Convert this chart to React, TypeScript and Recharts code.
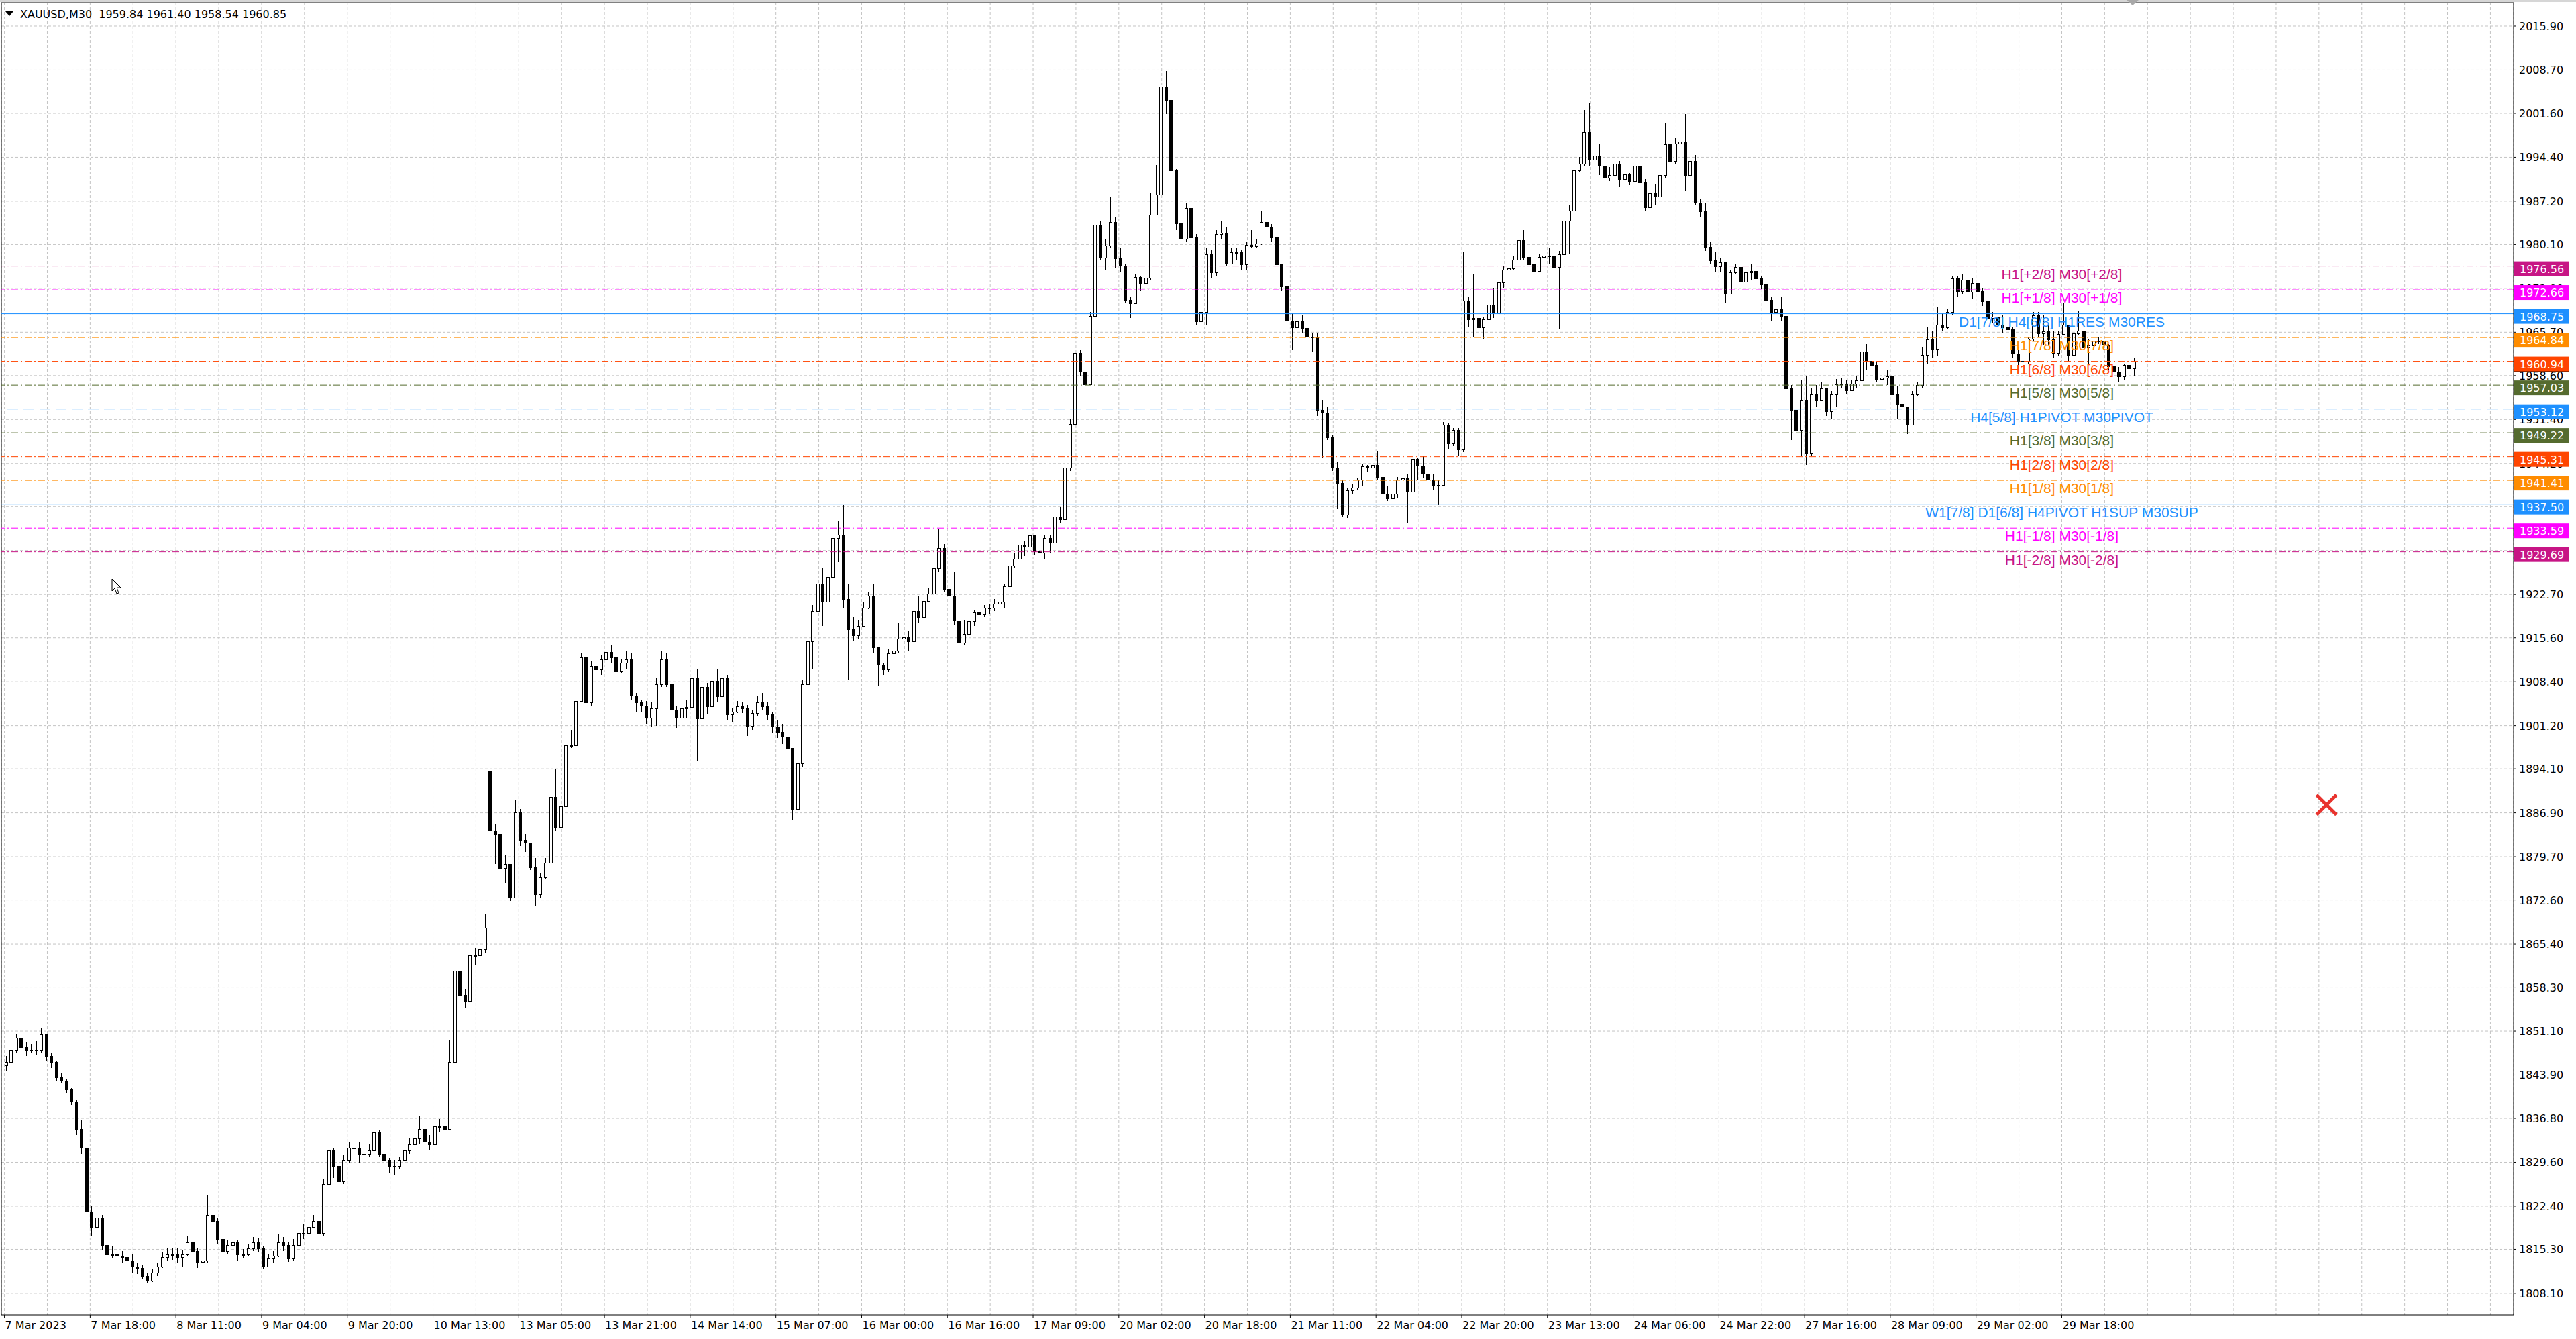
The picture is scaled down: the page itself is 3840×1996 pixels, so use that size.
import React from 'react';
import { ComposedChart, Bar, XAxis, YAxis, CartesianGrid, ReferenceLine, ReferenceDot } from 'recharts';

// XAUUSD M30, 7 - 30 Mar 2023. Candles, one per hour.
const opens = [
  1845.5, 1846, 1848, 1850, 1848.5, 1848, 1848, 1848, 1850.5, 1847,
  1846, 1843.5, 1843, 1841.5, 1839.5, 1835, 1832, 1821.5, 1819, 1820.5,
  1816, 1814.5, 1814.5, 1814.3, 1814, 1813.5, 1812.5, 1812.3, 1811, 1810.2,
  1811.5, 1812.5, 1814, 1814.5, 1814.5, 1814, 1814.5, 1816.5, 1815, 1813.3,
  1813.5, 1821, 1820, 1817, 1815, 1816, 1816.5, 1814.5, 1814.5, 1815.5,
  1816.5, 1815.5, 1812.5, 1813.8, 1814.3, 1816.5, 1816, 1813.8, 1816, 1818,
  1818, 1819, 1820, 1818, 1826, 1831.5, 1829, 1826.5, 1830, 1832,
  1832, 1831, 1831, 1831.5, 1834.5, 1831, 1830, 1829, 1829, 1830,
  1831.5, 1832.5, 1833.5, 1835, 1833, 1832.5, 1835.5, 1835.5, 1835, 1846,
  1861, 1857, 1856, 1863.5, 1863.5, 1864.5, 1893.8, 1884, 1883.5, 1877.8,
  1878.5, 1873, 1887, 1882.5, 1882, 1878, 1873.5, 1876.3, 1878.7, 1889.5,
  1884.5, 1888, 1898, 1898, 1905.2, 1912.4, 1905, 1911, 1910.5, 1912,
  1913.3, 1912.4, 1910.2, 1911.5, 1912, 1906.1, 1905, 1904.5, 1902.5, 1904,
  1908, 1912, 1908, 1903.8, 1902.5, 1904, 1904.2, 1909, 1902.4, 1907.5,
  1904.3, 1908.5, 1906, 1909, 1903, 1903.5, 1904.4, 1904, 1901.2, 1903.2,
  1905, 1904.4, 1903, 1901, 1900.2, 1899.4, 1897.5, 1887.5, 1895, 1908,
  1915, 1920, 1924.5, 1921.5, 1925.6, 1932, 1932.5, 1922, 1917, 1916,
  1917.5, 1920.5, 1922.5, 1914, 1911.2, 1910.5, 1913, 1913.5, 1915.5, 1915.7,
  1915, 1920, 1919, 1921.6, 1922.8, 1927, 1930.3, 1923.6, 1922.5, 1918.4,
  1914.8, 1916.2, 1918.3, 1919.7, 1919.4, 1920.5, 1920.5, 1921.2, 1921.5, 1924,
  1927.4, 1928.5, 1930.9, 1930.5, 1932.4, 1929.8, 1929.5, 1932, 1931.2, 1935.5,
  1935, 1943.5, 1950.7, 1962.3, 1959.2, 1957.2, 1968.4, 1983.3, 1978, 1979.9,
  1983.8, 1977.8, 1976.6, 1971, 1970.5, 1974.8, 1973.8, 1974.6, 1985, 1988.3,
  2006, 2003.8, 1992.3, 1983.6, 1981, 1986.1, 1981.3, 1967.5, 1969, 1978.5,
  1975.5, 1981.8, 1982, 1977, 1978.8, 1978.8, 1976.8, 1980, 1979.8, 1980.3,
  1983.8, 1983, 1981.2, 1976.8, 1973.2, 1967.6, 1966.5, 1967.5, 1966.4, 1965,
  1964.8, 1953, 1952.5, 1948.5, 1943.5, 1941, 1935.8, 1939.8, 1940.2, 1941.5,
  1943.7, 1943.5, 1944, 1942, 1939.2, 1938.5, 1939.2, 1941.5, 1941.8, 1939.5,
  1944.9, 1943.8, 1942.5, 1941.5, 1940.5, 1940.6, 1950.5, 1947.5, 1949.7, 1946.5,
  1970.9, 1967.8, 1968, 1966.5, 1967.8, 1970.3, 1968.8, 1973.9, 1976, 1976.2,
  1977.6, 1980.8, 1978.1, 1976.8, 1975.8, 1978.1, 1978.3, 1978.2, 1976.4, 1978.5,
  1984, 1985.7, 1992.3, 1993.3, 1998.5, 1994, 1994.7, 1993, 1991, 1991.5,
  1993.3, 1990.8, 1991.6, 1990.5, 1993, 1990.3, 1986.2, 1988.5, 1988, 1991.5,
  1996.5, 1993.8, 1996.6, 1997, 1991.5, 1993.8, 1987, 1985.5, 1979.7, 1977.5,
  1976.5, 1977.2, 1972, 1975.5, 1976.4, 1974, 1975.5, 1975.8, 1974.5, 1973.5,
  1971, 1969, 1969.5, 1968.4, 1956.5, 1953, 1949.7, 1954.5, 1945.8, 1955.5,
  1954.5, 1956.5, 1952.8, 1955.5, 1957.2, 1957.3, 1956.2, 1957.3, 1957.8, 1962.5,
  1961, 1960.3, 1958, 1958.2, 1958.5, 1955.5, 1954, 1953.5, 1950.5, 1955.5,
  1957, 1962, 1964.5, 1963, 1967, 1966.5, 1969, 1974.5, 1972.5, 1974.3,
  1972.3, 1973.8, 1972.5, 1970.8, 1968, 1968.3, 1967, 1966.5, 1966.2, 1962.2,
  1961, 1960.9, 1964.6, 1968.5, 1965.5, 1965.8, 1964.5, 1962.3, 1965.4, 1967,
  1962, 1965.5, 1966, 1963.2, 1963.5, 1964.3, 1964.3, 1963.6, 1960.1, 1959.2,
  1958.5, 1960.3, 1959.84
];

const highs = [
  1847, 1848.8, 1850.5, 1850.4, 1849.2, 1849, 1849.5, 1851.6, 1850.5, 1847.5,
  1846.2, 1844.2, 1843.2, 1841.8, 1839.8, 1836.5, 1832.5, 1822.5, 1822.9, 1821,
  1816.5, 1815.8, 1815, 1815, 1814.8, 1814.5, 1813.2, 1812.8, 1811.5, 1812,
  1813, 1814.8, 1815.5, 1815.6, 1815.5, 1815.2, 1817.5, 1817, 1815.6, 1814.5,
  1824.3, 1823.5, 1820.5, 1817.5, 1816.8, 1817.2, 1816.8, 1815.3, 1816.2, 1817.3,
  1817.2, 1815.8, 1814.5, 1815, 1817.8, 1817.3, 1816.5, 1817, 1819.8, 1819.5,
  1820, 1821, 1820.3, 1826.8, 1835.8, 1832, 1829.5, 1830.8, 1832.8, 1835.2,
  1832.8, 1831.8, 1832.5, 1835.2, 1834.8, 1831.5, 1830.3, 1830, 1830.5, 1832,
  1833.5, 1834.2, 1837.2, 1836, 1834, 1836.2, 1836.7, 1836.5, 1849.7, 1867.4,
  1863.5, 1858, 1865, 1864.8, 1866.5, 1870.3, 1894.2, 1885, 1884, 1880,
  1878, 1889, 1887.5, 1883.5, 1882, 1879.5, 1877, 1879.5, 1890, 1894,
  1889, 1898.5, 1900.5, 1910.5, 1913, 1913, 1911.8, 1912, 1912.8, 1915,
  1914.5, 1912.8, 1912, 1913.5, 1913, 1906.5, 1905.5, 1905.2, 1905, 1909,
  1913.5, 1913, 1908.2, 1904.5, 1904.8, 1905.5, 1911.5, 1910.5, 1908.5, 1908.2,
  1909, 1910.5, 1910, 1909.5, 1904, 1905.2, 1905, 1904.6, 1903.8, 1906,
  1906.5, 1905, 1903.5, 1902, 1901.5, 1902, 1897, 1896, 1908.8, 1916,
  1921, 1929.5, 1927, 1926.5, 1933.5, 1934.8, 1937.4, 1924.5, 1919, 1918.5,
  1921.5, 1923, 1924.5, 1914, 1911.5, 1913.8, 1914.5, 1918, 1920.5, 1916.8,
  1921.2, 1922.5, 1922.2, 1923.8, 1928.5, 1933.4, 1931, 1932.4, 1926.5, 1918.8,
  1918.5, 1918.8, 1920.2, 1920.8, 1921, 1921.2, 1922, 1922.5, 1924.5, 1928,
  1929.5, 1931.2, 1931.5, 1934.5, 1932.5, 1930.8, 1932.5, 1932.5, 1936, 1937,
  1944, 1951.5, 1963.5, 1962.8, 1962, 1969, 1987.5, 1984, 1981, 1987.8,
  1984.5, 1979.5, 1976.8, 1971.5, 1975.3, 1975, 1975.3, 1988.5, 1993.1, 2009.4,
  2008.5, 2004, 1992.5, 1985, 1987, 1986.5, 1981.8, 1971, 1979.5, 1979.3,
  1982.5, 1984, 1983, 1979.5, 1979.5, 1979.2, 1980.5, 1982.5, 1981, 1985.5,
  1984.5, 1983.5, 1983.5, 1977, 1975.5, 1968.8, 1969.5, 1968.5, 1967.5, 1965.5,
  1965.5, 1954.5, 1953.5, 1948.8, 1944.5, 1941.5, 1940.2, 1940.8, 1941.8, 1944.2,
  1944, 1944.5, 1946.2, 1942.5, 1940.5, 1940.2, 1942, 1943, 1942.5, 1945.5,
  1945.2, 1945.5, 1943.5, 1942.5, 1941.5, 1951, 1950.8, 1950, 1950, 1978.9,
  1971.5, 1975.2, 1968.2, 1968.2, 1970.8, 1973, 1974.3, 1976.5, 1977.3, 1978.3,
  1981.5, 1982.5, 1984.5, 1977.5, 1978.5, 1980, 1979.5, 1979.5, 1979, 1985.5,
  1986.5, 1993, 1994.5, 2002.1, 2003.2, 1998.5, 1996.5, 1993, 1992.8, 1994,
  1993.8, 1992.2, 1991.8, 1993.5, 1993.5, 1990.8, 1989.5, 1990, 1992, 2000,
  1997.5, 1997.5, 2002.7, 2001.5, 1995.2, 1994.8, 1987.5, 1987, 1980.5, 1978.8,
  1978, 1977, 1976, 1976.8, 1976, 1976.5, 1976.8, 1977, 1975, 1973,
  1971.5, 1970.5, 1971.5, 1968.8, 1957, 1954, 1957.8, 1958.5, 1956.5, 1957,
  1957.5, 1956.5, 1956, 1958, 1958.2, 1957.8, 1957.8, 1958.5, 1963.5, 1963.8,
  1961.5, 1960.8, 1959.5, 1959.5, 1959.8, 1956.8, 1954.5, 1953.5, 1956, 1957.5,
  1963.3, 1966.5, 1966, 1969.9, 1968.8, 1969.5, 1975, 1975, 1975.2, 1974.8,
  1974.5, 1974.5, 1973, 1971.8, 1969, 1969, 1968.5, 1968.8, 1966.5, 1963.2,
  1962, 1965, 1969, 1969, 1968.5, 1967, 1966, 1965.8, 1970.6, 1967,
  1966, 1969.1, 1968.5, 1964.5, 1964.8, 1965, 1964.5, 1963.8, 1961.5, 1960,
  1960.6, 1960.8, 1961.4
];

const lows = [
  1844.5, 1845.8, 1847.5, 1848, 1847, 1847.5, 1847.2, 1847.5, 1846.3, 1845,
  1843, 1842.5, 1841, 1839, 1834, 1831, 1815.8, 1817.5, 1818, 1815.2,
  1813.5, 1813.8, 1813.5, 1813.2, 1812.5, 1811.5, 1811.3, 1810.5, 1809.9, 1810,
  1811, 1812.3, 1813.5, 1813.6, 1813, 1812.5, 1814.3, 1814.3, 1812.3, 1812.5,
  1813, 1819, 1816.2, 1814, 1814.5, 1814.8, 1813.5, 1813.8, 1814.2, 1815,
  1814.8, 1812, 1812.4, 1813.2, 1814, 1815, 1813.3, 1813.5, 1815.5, 1817,
  1817.5, 1818.8, 1815.5, 1817.5, 1825.5, 1827, 1825.8, 1826, 1829.5, 1831,
  1829.5, 1830.2, 1830.5, 1831, 1830.5, 1828.5, 1827.8, 1827.5, 1828.5, 1829.5,
  1831, 1831.8, 1832.5, 1832.2, 1831.5, 1832, 1834.5, 1832, 1835, 1845.5,
  1855.3, 1854.8, 1855.5, 1862, 1861, 1864, 1880.2, 1878.5, 1877.5, 1875.4,
  1872.5, 1873, 1881.5, 1880.5, 1877.5, 1871.6, 1873, 1876, 1878.5, 1884,
  1880.9, 1887.5, 1897.5, 1895.5, 1905, 1903.5, 1904.5, 1908.5, 1909.5, 1911.5,
  1911.5, 1909.6, 1909.8, 1910.5, 1905.5, 1903.5, 1903.5, 1901.5, 1901, 1901.2,
  1907.5, 1907.5, 1903, 1900.8, 1900.8, 1902.5, 1903, 1895.4, 1900.5, 1903,
  1903, 1905, 1906, 1902, 1901.8, 1903.3, 1903.2, 1899.5, 1900.5, 1902.8,
  1903.7, 1902, 1900, 1899.2, 1898.2, 1896.2, 1885.6, 1886.5, 1894.5, 1907,
  1910.5, 1917.5, 1917.5, 1918.5, 1925, 1928, 1920.5, 1908.8, 1915, 1915.5,
  1918.2, 1920.3, 1913, 1907.6, 1909.5, 1910, 1912.5, 1913, 1915, 1913.5,
  1914.5, 1918, 1918.5, 1921.5, 1922.5, 1926.5, 1923, 1921.5, 1917.8, 1913.3,
  1914.5, 1915.5, 1917.5, 1918.5, 1919, 1919.5, 1920, 1918.2, 1920.5, 1922.2,
  1927, 1927.5, 1929, 1929.5, 1929.2, 1928.5, 1928.5, 1929.5, 1930.3, 1934.5,
  1935, 1943, 1950.5, 1958.5, 1955.2, 1957, 1968, 1977.5, 1976, 1979.5,
  1976.2, 1975.5, 1970.5, 1968.1, 1970.5, 1972.5, 1973, 1974.3, 1987.5, 1988,
  2001.5, 1992, 1982.5, 1974.9, 1980.5, 1974, 1967, 1966, 1967, 1974.5,
  1975, 1981, 1976.5, 1977, 1977.5, 1976, 1976, 1979.5, 1979.5, 1980,
  1982.5, 1980.5, 1976.3, 1972.5, 1967, 1962.8, 1966.5, 1965.5, 1960.5, 1962.5,
  1952, 1945.1, 1948, 1943, 1936.7, 1935.5, 1935.3, 1939.2, 1939.8, 1940.5,
  1942.8, 1942.8, 1941.5, 1938.5, 1938, 1937.5, 1938.5, 1940.5, 1934.5, 1939,
  1941.5, 1941.8, 1941, 1939.8, 1937.3, 1940.5, 1946.5, 1947, 1945.5, 1946,
  1966.5, 1965, 1965.8, 1964.5, 1966.8, 1968, 1968, 1973, 1975.5, 1976,
  1976, 1977.5, 1976, 1974.3, 1975.5, 1977.5, 1977, 1975.5, 1966.3, 1978,
  1978.5, 1983.5, 1992, 1993, 1993, 1993.5, 1991.5, 1990.5, 1990.5, 1990.8,
  1989.5, 1990.5, 1989.8, 1989.8, 1989.5, 1985.5, 1985.5, 1986.5, 1981, 1991,
  1992.5, 1993.2, 1996, 1989, 1989.3, 1986.5, 1984.5, 1979, 1976.8, 1975.5,
  1975.5, 1970.5, 1972, 1975.2, 1973, 1973.5, 1974.3, 1974, 1972.8, 1970.5,
  1967.5, 1966, 1967.5, 1955.5, 1948, 1948.5, 1945.5, 1944, 1945.5, 1953.5,
  1954.5, 1952, 1951.5, 1953.5, 1956.5, 1955.5, 1956.5, 1956.5, 1957.5, 1959.5,
  1959.5, 1957.5, 1957.3, 1957, 1954.5, 1951.5, 1952.5, 1949, 1950.5, 1955.2,
  1956.5, 1960.5, 1961.5, 1961.8, 1965.8, 1966.3, 1968.5, 1971.5, 1972, 1971,
  1971.2, 1972, 1970, 1967.5, 1967.3, 1965.5, 1965.5, 1965.5, 1961.5, 1960.3,
  1960.2, 1960.5, 1964.3, 1964.8, 1963.5, 1963.5, 1961.5, 1961.8, 1965.2, 1961,
  1962, 1965.3, 1962.8, 1960.4, 1963.3, 1963.7, 1963, 1959.5, 1954.6, 1957.5,
  1957.8, 1959, 1958.54
];

const closes = [
  1846, 1848, 1850, 1848.5, 1848, 1848, 1848, 1850.5, 1847, 1846,
  1843.5, 1843, 1841.5, 1839.5, 1835, 1832, 1821.5, 1819, 1820.5, 1816,
  1814.5, 1814.5, 1814.3, 1814, 1813.5, 1812.5, 1812.3, 1811, 1810.2, 1811.5,
  1812.5, 1814, 1814.5, 1814.5, 1814, 1814.5, 1816.5, 1815, 1813.3, 1813.5,
  1821, 1820, 1817, 1815, 1816, 1816.5, 1814.5, 1814.5, 1815.5, 1816.5,
  1815.5, 1812.5, 1813.8, 1814.3, 1816.5, 1816, 1813.8, 1816, 1818, 1818,
  1819, 1820, 1818, 1826, 1831.5, 1829, 1826.5, 1830, 1832, 1832,
  1831, 1831, 1831.5, 1834.5, 1831, 1830, 1829, 1829, 1830, 1831.5,
  1832.5, 1833.5, 1835, 1833, 1832.5, 1835.5, 1835.5, 1835, 1846, 1861,
  1857, 1856, 1863.5, 1863.5, 1864.5, 1868, 1884, 1883.5, 1877.8, 1878.5,
  1873, 1887, 1882.5, 1882, 1878, 1873.5, 1876.3, 1878.7, 1889.5, 1884.5,
  1888, 1898, 1898, 1905.2, 1912.4, 1905, 1911, 1910.5, 1912, 1913.3,
  1912.4, 1910.2, 1911.5, 1912, 1906.1, 1905, 1904.5, 1902.5, 1904, 1908,
  1912, 1908, 1903.8, 1902.5, 1904, 1904.2, 1909, 1902.4, 1907.5, 1904.3,
  1908.5, 1906, 1909, 1903, 1903.5, 1904.4, 1904, 1901.2, 1903.2, 1905,
  1904.4, 1903, 1901, 1900.2, 1899.4, 1897.5, 1887.5, 1895, 1908, 1915,
  1920, 1924.5, 1921.5, 1925.6, 1932, 1932.5, 1922, 1917, 1916, 1917.5,
  1920.5, 1922.5, 1914, 1911.2, 1910.5, 1913, 1913.5, 1915.5, 1915.7, 1915,
  1920, 1919, 1921.6, 1922.8, 1927, 1930.3, 1923.6, 1922.5, 1918.4, 1914.8,
  1916.2, 1918.3, 1919.7, 1919.4, 1920.5, 1920.5, 1921.2, 1921.5, 1924, 1927.4,
  1928.5, 1930.9, 1930.5, 1932.4, 1929.8, 1929.5, 1932, 1931.2, 1935.5, 1935,
  1943.5, 1950.7, 1962.3, 1959.2, 1957.2, 1968.4, 1983.3, 1978, 1979.9, 1983.8,
  1977.8, 1976.6, 1971, 1970.5, 1974.8, 1973.8, 1974.6, 1985, 1988.3, 2006,
  2003.8, 1992.3, 1983.6, 1981, 1986.1, 1981.3, 1967.5, 1969, 1978.5, 1975.5,
  1981.8, 1982, 1977, 1978.8, 1978.8, 1976.8, 1980, 1979.8, 1980.3, 1983.8,
  1983, 1981.2, 1976.8, 1973.2, 1967.6, 1966.5, 1967.5, 1966.4, 1965, 1964.8,
  1953, 1952.5, 1948.5, 1943.5, 1941, 1935.8, 1939.8, 1940.2, 1941.5, 1943.7,
  1943.5, 1944, 1942, 1939.2, 1938.5, 1939.2, 1941.5, 1941.8, 1939.5, 1944.9,
  1943.8, 1942.5, 1941.5, 1940.5, 1940.6, 1950.5, 1947.5, 1949.7, 1946.5, 1970.9,
  1967.8, 1968, 1966.5, 1967.8, 1970.3, 1968.8, 1973.9, 1976, 1976.2, 1977.6,
  1980.8, 1978.1, 1976.8, 1975.8, 1978.1, 1978.3, 1978.2, 1976.4, 1978.5, 1984,
  1985.7, 1992.3, 1993.3, 1998.5, 1994, 1994.7, 1993, 1991, 1991.5, 1993.3,
  1990.8, 1991.6, 1990.5, 1993, 1990.3, 1986.2, 1988.5, 1988, 1991.5, 1996.5,
  1993.8, 1996.6, 1997, 1991.5, 1993.8, 1987, 1985.5, 1979.7, 1977.5, 1976.5,
  1977.2, 1972, 1975.5, 1976.4, 1974, 1975.5, 1975.8, 1974.5, 1973.5, 1971,
  1969, 1969.5, 1968.4, 1956.5, 1953, 1949.7, 1954.5, 1945.8, 1955.5, 1954.5,
  1956.5, 1952.8, 1955.5, 1957.2, 1957.3, 1956.2, 1957.3, 1957.8, 1962.5, 1961,
  1960.3, 1958, 1958.2, 1958.5, 1955.5, 1954, 1953.5, 1950.5, 1955.5, 1957,
  1962, 1964.5, 1963, 1967, 1966.5, 1969, 1974.5, 1972.5, 1974.3, 1972.3,
  1973.8, 1972.5, 1970.8, 1968, 1968.3, 1967, 1966.5, 1966.2, 1962.2, 1961,
  1960.9, 1964.6, 1968.5, 1965.5, 1965.8, 1964.5, 1962.3, 1965.4, 1967, 1962,
  1965.5, 1966, 1963.2, 1963.5, 1964.3, 1964.3, 1963.6, 1960.1, 1959.2, 1958.5,
  1960.3, 1959.8, 1960.85
];

const timeLabels = [
  '7 Mar 2023', '7 Mar 18:00', '8 Mar 11:00', '9 Mar 04:00', '9 Mar 20:00',
  '10 Mar 13:00', '13 Mar 05:00', '13 Mar 21:00', '14 Mar 14:00', '15 Mar 07:00',
  '16 Mar 00:00', '16 Mar 16:00', '17 Mar 09:00', '20 Mar 02:00', '20 Mar 18:00',
  '21 Mar 11:00', '22 Mar 04:00', '22 Mar 20:00', '23 Mar 13:00', '24 Mar 06:00',
  '24 Mar 22:00', '27 Mar 16:00', '28 Mar 09:00', '29 Mar 02:00', '29 Mar 18:00'
];

const priceTicks = [
  2015.9, 2008.7, 2001.6, 1994.4, 1987.2, 1980.1, 1972.9, 1965.7, 1958.6, 1951.4,
  1944.2, 1937.1, 1929.9, 1922.7, 1915.6, 1908.4, 1901.2, 1894.1, 1886.9, 1879.7,
  1872.6, 1865.4, 1858.3, 1851.1, 1843.9, 1836.8, 1829.6, 1822.4, 1815.3, 1808.1
];

// murrey-math style levels drawn by the indicator
const levelPrices = [
  1976.56, 1972.66, 1968.75, 1964.84, 1960.94, 1957.03, 1953.12,
  1949.22, 1945.31, 1941.41, 1937.5, 1933.59, 1929.69
];
const levelNames = [
  'H1[+2/8] M30[+2/8]', 'H1[+1/8] M30[+1/8]', 'D1[7/8] H4[6/8] H1RES M30RES',
  'H1[7/8] M30[7/8]', 'H1[6/8] M30[6/8]', 'H1[5/8] M30[5/8]', 'H4[5/8] H1PIVOT M30PIVOT',
  'H1[3/8] M30[3/8]', 'H1[2/8] M30[2/8]', 'H1[1/8] M30[1/8]',
  'W1[7/8] D1[6/8] H4PIVOT H1SUP M30SUP', 'H1[-1/8] M30[-1/8]', 'H1[-2/8] M30[-2/8]'
];
const bidPrice = 1960.85;
const crossMark = { bar: 921, price: 1888.2 };

// axis geometry (in M30 bar units / price)
const X_MIN = -1.22;
const X_MAX = 995.2;
const Y_MIN = 1804.57;
const Y_MAX = 2019.75;
const BARS_PER_LABEL = 34;
const LABEL_BAR = 816;

const DASHDOT = '10 4 2 4';
const VIOLET = '#C71585';
const MAGENTA = '#FF00FF';
const BLUE = '#1E90FF';
const ORANGE = '#FF8C00';
const RED = '#FF4500';
const OLIVE = '#556B2F';
const levelStyles = [
  { color: VIOLET, dash: DASHDOT },
  { color: MAGENTA, dash: DASHDOT },
  { color: BLUE, dash: undefined },
  { color: ORANGE, dash: DASHDOT },
  { color: RED, dash: DASHDOT },
  { color: OLIVE, dash: DASHDOT },
  { color: BLUE, dash: '16 8' },
  { color: OLIVE, dash: DASHDOT },
  { color: RED, dash: DASHDOT },
  { color: ORANGE, dash: DASHDOT },
  { color: BLUE, dash: undefined },
  { color: MAGENTA, dash: DASHDOT },
  { color: VIOLET, dash: DASHDOT }
];

const AXIS_FONT = 'DejaVu Sans, Verdana, sans-serif';

const candles = closes.map((c, j) => {
  const o = opens[j];
  return {
    bar: j * 2 + 0.5,
    o,
    h: highs[j],
    l: lows[j],
    c,
    range: [Math.min(lows[j], o, c), Math.max(highs[j], o, c)]
  };
});

const gridBars = Array.from({ length: 59 }, (_, k) => k * 17);
// price labels first, then the price tags so the tags paint over them
const axisTicks = [...priceTicks, bidPrice, ...levelPrices];

function Candle(props: any) {
  const { x, y, width, height, payload } = props;
  if (!payload || x == null || y == null) return null;
  const top = Math.min(y, y + height);
  const span = Math.abs(height);
  const [lo, hi] = payload.range;
  const k = hi > lo ? span / (hi - lo) : 0;
  const py = (v: number) => top + (hi - v) * k;
  const cx = Math.round(x + width / 2) + 0.5;
  const bull = payload.c > payload.o;
  const y1 = Math.round(Math.min(py(payload.o), py(payload.c))) + 0.5;
  const y2 = Math.round(Math.max(py(payload.o), py(payload.c))) + 0.5;
  return (
    <g shapeRendering="crispEdges">
      <line x1={cx} x2={cx} y1={top} y2={top + span} stroke="#000" strokeWidth={1} />
      <rect x={cx - 2} y={y1} width={4} height={Math.max(y2 - y1, 1)}
        fill={bull ? '#fff' : '#000'} stroke="#000" strokeWidth={1} />
    </g>
  );
}

function PriceTick(props: any) {
  const { x, y, payload } = props;
  const v = Number(payload.value);
  const lvl = levelPrices.indexOf(v);
  if (lvl >= 0 || v === bidPrice) {
    const color = lvl >= 0 ? levelStyles[lvl].color : '#000';
    // MT4 draws the price tag a few pixels below its line
    return (
      <g>
        <rect x={x - 3} y={y - 7} width={81} height={22} fill={color} />
        <text x={x + 5} y={y + 10} fontFamily={AXIS_FONT} fontSize={16} fill="#fff">{v.toFixed(2)}</text>
      </g>
    );
  }
  return (
    <text x={x + 4} y={y + 6} fontFamily={AXIS_FONT} fontSize={16} fill="#000">{v.toFixed(2)}</text>
  );
}

function TimeTick(props: any) {
  const { x, y, payload } = props;
  const v = payload.value;
  if (v % BARS_PER_LABEL !== 0) return null;
  const label = timeLabels[v / BARS_PER_LABEL];
  if (!label) return null;
  return (
    <g>
      <line x1={x} x2={x} y1={y} y2={y + 5} stroke="#000" />
      <text x={x + 1} y={y + 21} fontFamily={AXIS_FONT} fontSize={16} fill="#000">{label}</text>
    </g>
  );
}

function LevelLabel(props: any) {
  const { viewBox, name, color } = props;
  if (!viewBox) return null;
  const { x, y, width } = viewBox;
  const tx = x + ((LABEL_BAR - X_MIN) / (X_MAX - X_MIN)) * width;
  return (
    <text x={tx} y={y + 19} textAnchor="middle" fontFamily="Liberation Sans, Arial, sans-serif"
      fontSize={21} fill={color}>{name}</text>
  );
}

function Cross(props: any) {
  const { cx, cy } = props;
  if (cx == null || cy == null) return null;
  const s = 13;
  return (
    <g stroke="#E8332E" strokeWidth={5} strokeLinecap="square">
      <line x1={cx - s} y1={cy - s} x2={cx + s} y2={cy + s} />
      <line x1={cx - s} y1={cy + s} x2={cx + s} y2={cy - s} />
    </g>
  );
}

export default function App() {
  const last = closes.length - 1;
  const header = `XAUUSD,M30  ${opens[last].toFixed(2)} ${highs[last].toFixed(2)} ${lows[last].toFixed(2)} ${closes[last].toFixed(2)}`;

  return (
    <div style={{ position: 'absolute', left: 0, top: 0, width: 3840, height: 1996, background: '#fff', overflow: 'hidden' }}>
      <div style={{ position: 'absolute', left: 0, top: 0, width: 3840, height: 3, background: '#d6d6d6' }} />
      <ComposedChart width={3840} height={1996} data={candles}
        margin={{ top: 4, right: 0, bottom: 0, left: 2 }}>
        <CartesianGrid stroke="#c4c4c4" strokeDasharray="4 3" horizontalValues={priceTicks} />
        <XAxis type="number" dataKey="bar" domain={[X_MIN, X_MAX]} allowDataOverflow
          ticks={gridBars} interval={0} tick={<TimeTick />} tickLine={false}
          tickSize={0} tickMargin={0} axisLine={{ stroke: '#000' }} height={36} />
        <YAxis orientation="right" domain={[Y_MIN, Y_MAX]} allowDataOverflow
          ticks={axisTicks} interval={0} tick={<PriceTick />} tickSize={4} tickMargin={0}
          tickLine={{ stroke: '#000' }} axisLine={{ stroke: '#000' }} width={93} />
        <ReferenceLine y={Y_MAX} stroke="#000" />
        <ReferenceLine x={X_MIN} stroke="#000" />
        <ReferenceLine y={bidPrice} stroke="#c0c0c0" />
        {levelPrices.map((p, k) => (
          <ReferenceLine key={p} y={p} stroke={levelStyles[k].color}
            strokeDasharray={levelStyles[k].dash}
            label={<LevelLabel name={levelNames[k]} color={levelStyles[k].color} />} />
        ))}
        <Bar dataKey="range" barSize={6} shape={<Candle />} isAnimationActive={false} />
        <ReferenceDot x={crossMark.bar} y={crossMark.price} r={14} shape={<Cross />} />
      </ComposedChart>
      <svg style={{ position: 'absolute', left: 0, top: 0 }} width={600} height={40}>
        <polygon points="8,17 20,17 14,24" fill="#000" />
        <text x={30} y={27} fontFamily={AXIS_FONT} fontSize={16} fill="#000" style={{ whiteSpace: 'pre' }}>
          {header}
        </text>
      </svg>
      <svg style={{ position: 'absolute', left: 3170, top: 0 }} width={20} height={10}>
        <polygon points="0,0 18,0 9,8" fill="#a8a8a8" />
      </svg>
      <svg style={{ position: 'absolute', left: 166, top: 862 }} width={16} height={26}>
        <path d="M1,1 L1,19 L5,15 L8,23 L11,22 L8,14 L14,14 Z" fill="#fff" stroke="#000" strokeWidth={1} />
      </svg>
    </div>
  );
}
